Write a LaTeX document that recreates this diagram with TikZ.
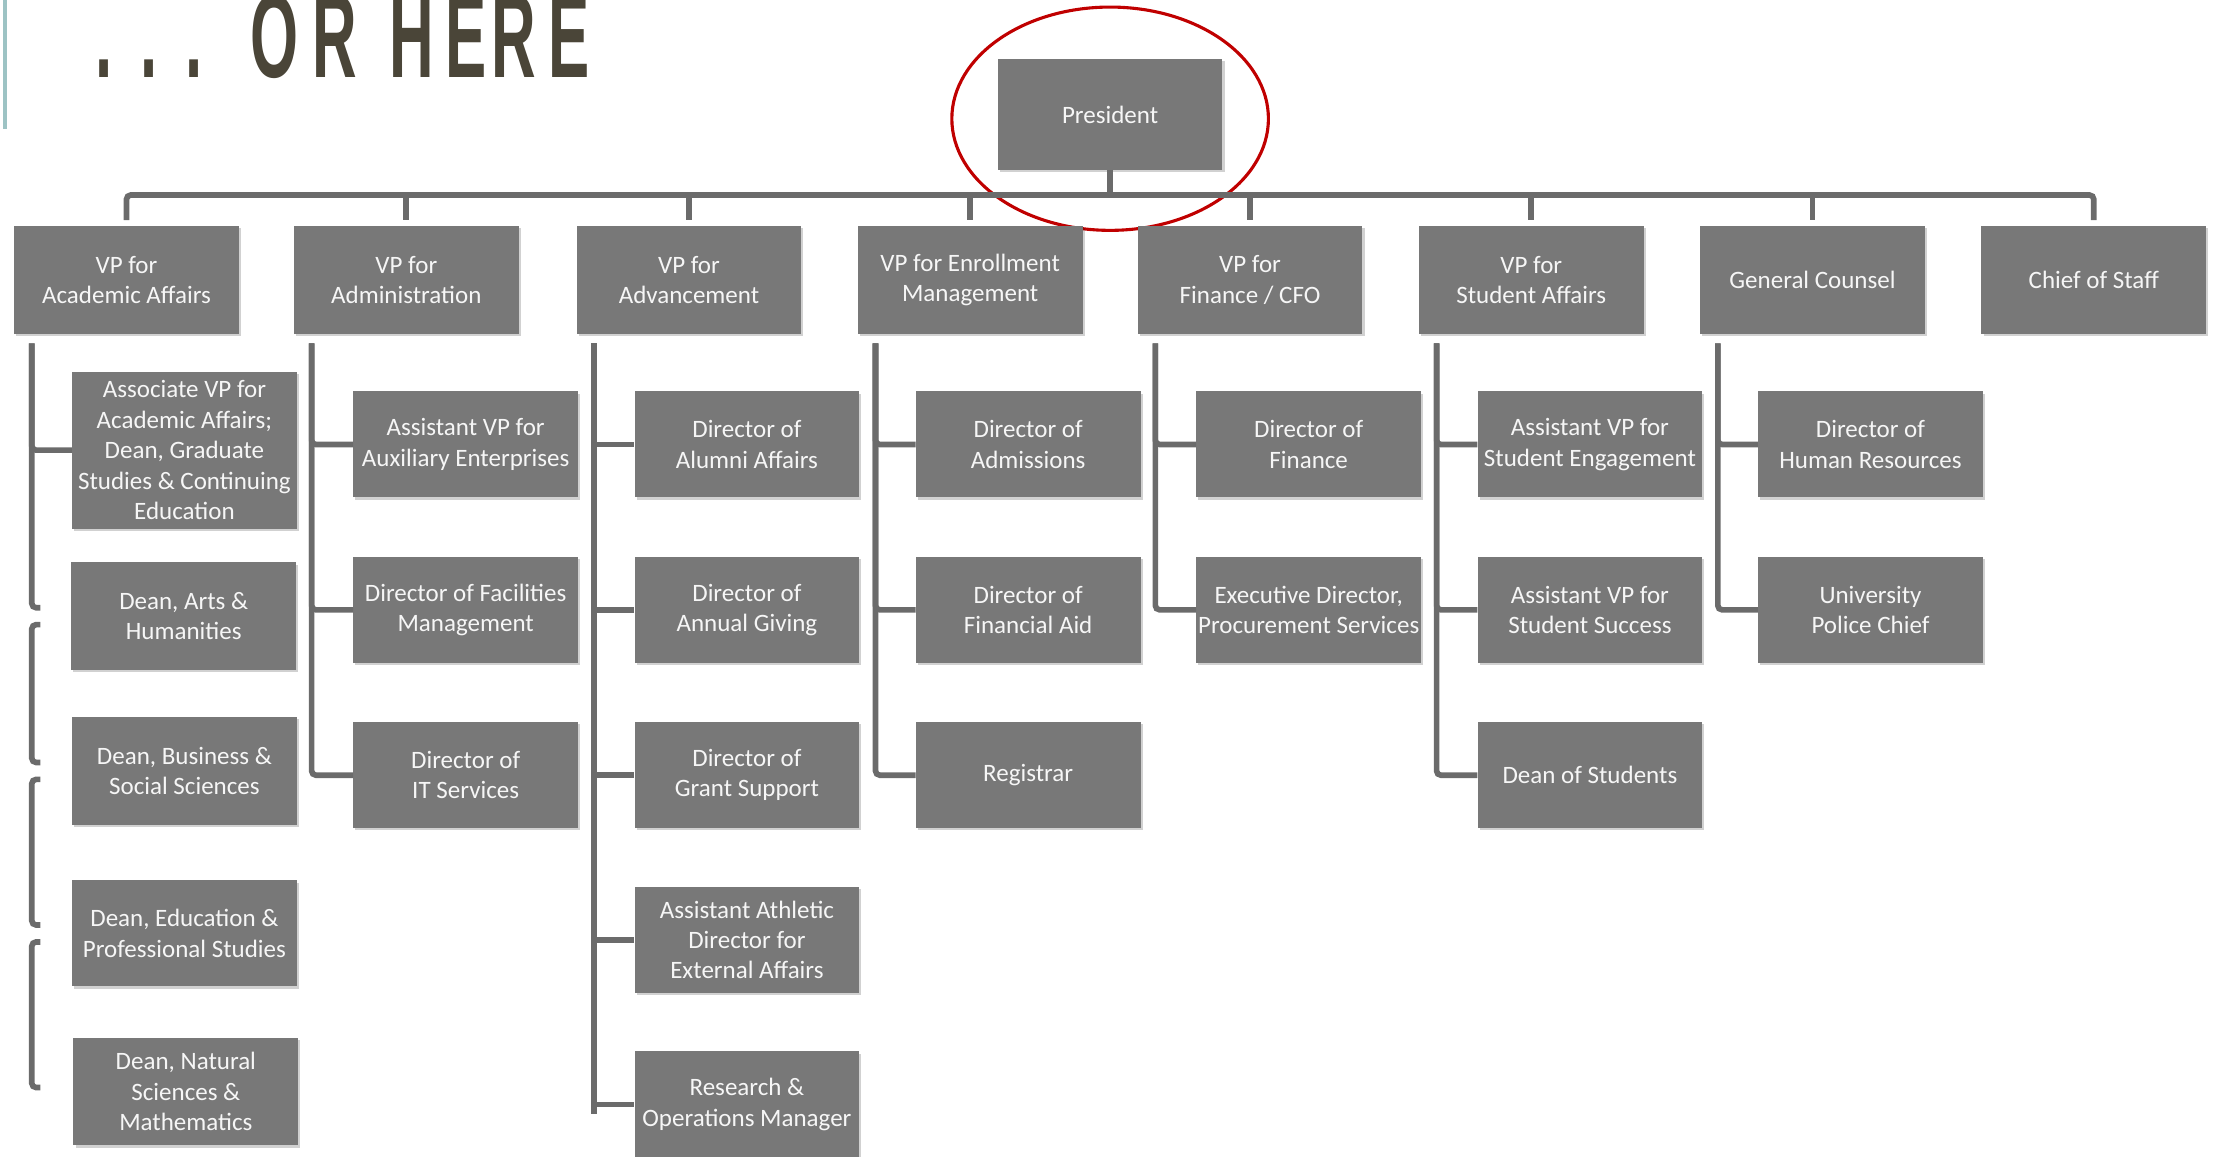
\documentclass[tikz,border=0pt]{standalone}
\usepackage{fontspec}
\setmainfont{Carlito}
\newfontfamily\titlefont{Liberation Sans}
\usetikzlibrary{shapes.geometric,calc,shadows}
\definecolor{boxgray}{HTML}{787878}
\definecolor{linegray}{HTML}{6B6B6B}
\definecolor{titlecol}{HTML}{4A4538}
\definecolor{accentteal}{HTML}{9DC3C4}
\definecolor{ringred}{HTML}{C00000}
\definecolor{boxtext}{HTML}{F6F6F6}
\begin{document}
\begin{tikzpicture}[x=1pt,y=-1pt,
  orgbox/.style={fill=boxgray, text=boxtext, minimum width=159, minimum height=75,
    inner sep=0, align=center, font=\fontsize{17.7}{21.5}\selectfont,
    drop shadow={shadow xshift=1.5pt, shadow yshift=-1.5pt, opacity=0.18, fill=black}},
  conn/.style={draw=linegray, line width=4, rounded corners=3}]
\useasboundingbox (0,0) rectangle (1568,818);

% title and accent
\draw[accentteal, line width=2.2] (3.5,0) -- (3.5,91);
\node[anchor=base west, inner sep=0, text=titlecol] (title) at (67.7,54.7)
  {\scalebox{0.52}[1]{\titlefont\bfseries\fontsize{84}{84}\selectfont
   .\hspace*{37.5pt}.\hspace*{37.5pt}.\hspace*{65.4pt}O\hspace*{18.7pt}R\hspace*{44pt}H\hspace*{16pt}E\hspace*{6pt}R\hspace*{17pt}E}};

% president
\node[orgbox, minimum height=78] (pres) at (785.5,81) {President};
\node[draw=ringred, line width=2.2, ellipse, minimum width=224, minimum height=158, inner sep=0] (ring) at (785.5,84) {};

% VP row
\node[orgbox, minimum height=76] (vpA) at (89.5,198)  {VP for\\Academic Affairs};
\node[orgbox, minimum height=76] (vpB) at (287.5,198) {VP for\\Administration};
\node[orgbox, minimum height=76] (vpC) at (487.5,198) {VP for\\Advancement};
\node[orgbox, minimum height=76] (vpD) at (686.5,198) {VP for Enrollment\\Management};
\node[orgbox, minimum height=76] (vpE) at (884.5,198) {VP for\\Finance / CFO};
\node[orgbox, minimum height=76] (vpF) at (1083.5,198) {VP for\\Student Affairs};
\node[orgbox, minimum height=76] (vpG) at (1282.5,198) {General Counsel};
\node[orgbox, minimum height=76] (vpH) at (1481.5,198) {Chief of Staff};

% academic affairs
\node[orgbox, minimum height=111] (a1) at (130.5,318.5) {Associate VP for\\Academic Affairs;\\Dean, Graduate\\Studies \& Continuing\\Education};
\node[orgbox, minimum height=76] (a2) at (130,436) {Dean, Arts \&\\Humanities};
\node[orgbox, minimum height=77] (a3) at (130.5,545.5) {Dean, Business \&\\Social Sciences};
\node[orgbox] (a4) at (130.5,660.5) {Dean, Education \&\\Professional Studies};
\node[orgbox, minimum height=76] (a5) at (131.5,772.5) {Dean, Natural\\Sciences \&\\Mathematics};

% administration
\node[orgbox] (b1) at (329.5,314.5) {Assistant VP for\\Auxiliary Enterprises};
\node[orgbox] (b2) at (329.5,431.5) {Director of Facilities\\Management};
\node[orgbox] (b3) at (329.5,548.5) {Director of\\IT Services};

% advancement
\node[orgbox] (c1) at (528.5,314.5) {Director of\\Alumni Affairs};
\node[orgbox] (c2) at (528.5,431.5) {Director of\\Annual Giving};
\node[orgbox] (c3) at (528.5,548.5) {Director of\\Grant Support};
\node[orgbox] (c4) at (528.5,665) {Assistant Athletic\\Director for\\External Affairs};
\node[orgbox] (c5) at (528.5,781.5) {Research \&\\Operations Manager};

% enrollment
\node[orgbox] (d1) at (727.5,314.5) {Director of\\Admissions};
\node[orgbox] (d2) at (727.5,431.5) {Director of\\Financial Aid};
\node[orgbox] (d3) at (727.5,548.5) {Registrar};

% finance
\node[orgbox] (e1) at (926,314.5) {Director of\\Finance};
\node[orgbox] (e2) at (926,431.5) {Executive Director,\\Procurement Services};

% student affairs
\node[orgbox] (f1) at (1125,314.5) {Assistant VP for\\Student Engagement};
\node[orgbox] (f2) at (1125,431.5) {Assistant VP for\\Student Success};
\node[orgbox] (f3) at (1125,548.5) {Dean of Students};

% general counsel
\node[orgbox] (g1) at (1323.5,314.5) {Director of\\Human Resources};
\node[orgbox] (g2) at (1323.5,431.5) {University\\Police Chief};

% top bus
\coordinate (bus) at (785.5,138);
\draw[conn] (pres.south) -- (bus);
\draw[conn, shorten <=4, shorten >=4] (vpA.north) -- (vpA.north |- bus) -- (vpH.north |- bus) -- (vpH.north);
\foreach \v in {vpB,vpC,vpD,vpE,vpF,vpG}
  \draw[conn, shorten >=4] (\v.north |- bus) -- (\v.north);

% column spines
\coordinate (tA) at (22.5,243);
\coordinate (tB) at (220.5,243);
\coordinate (tC) at (420.5,243);
\coordinate (tD) at (619.5,243);
\coordinate (tE) at (817.5,243);
\coordinate (tF) at (1016.5,243);
\coordinate (tG) at (1215.5,243);
\coordinate (eC) at (420.5,788);

% academic affairs (broken spine)
\draw[conn] (tA) |- (a1.west);
\draw[conn] (tA) |- ($(tA |- a2.west)+(6,-6)$);
\draw[conn] ($(tA |- a2.west)+(6,6)$) -| ($(tA |- a3.west)+(0,-6)$) -- ++(6,0);
\draw[conn] ($(tA |- a3.west)+(6,6)$) -| ($(tA |- a4.west)+(0,-6)$) -- ++(6,0);
\draw[conn] ($(tA |- a4.west)+(6,6)$) -| ($(tA |- a5.west)+(0,-3)$) -- ++(6,0);

% administration
\foreach \c in {b1,b2,b3} \draw[conn] (tB) |- (\c.west);
% advancement
\draw[conn] (tC) -- (eC);
\foreach \c in {c1,c2,c3,c4,c5} \draw[conn] (tC |- \c.west) -- (\c.west);
% enrollment
\foreach \c in {d1,d2,d3} \draw[conn] (tD) |- (\c.west);
% finance
\foreach \c in {e1,e2} \draw[conn] (tE) |- (\c.west);
% student affairs
\foreach \c in {f1,f2,f3} \draw[conn] (tF) |- (\c.west);
% general counsel
\foreach \c in {g1,g2} \draw[conn] (tG) |- (\c.west);
\end{tikzpicture}
\end{document}
